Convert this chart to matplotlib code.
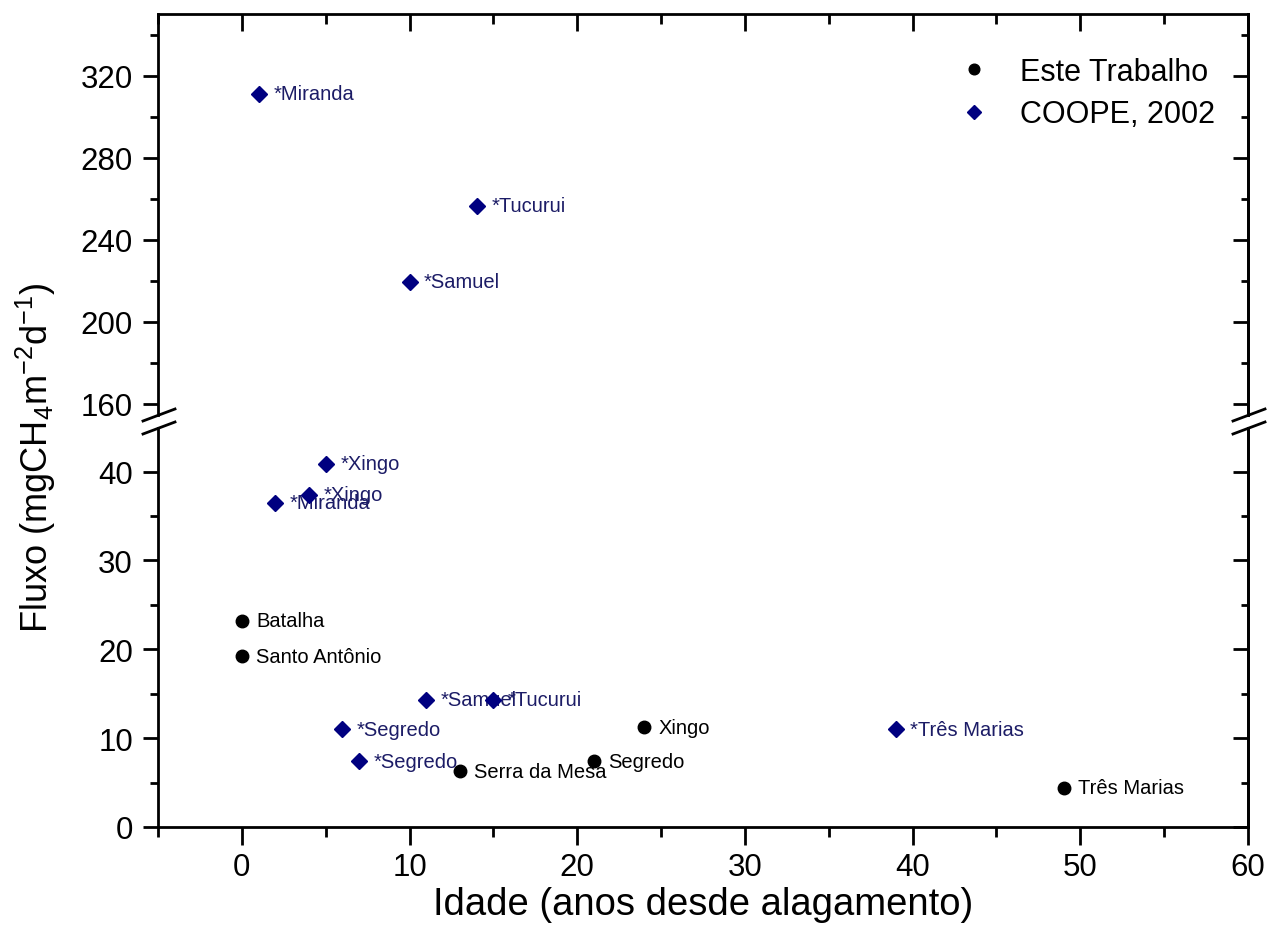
import matplotlib
matplotlib.use("Agg")
import matplotlib.pyplot as plt
from matplotlib.lines import Line2D
from matplotlib.ticker import MultipleLocator

plt.rcParams["font.family"] = ["Liberation Sans", "DejaVu Sans"]
plt.rcParams["mathtext.default"] = "regular"

# Este Trabalho (circulos pretos)
este_nomes = ["Batalha", "Santo Antônio", "Serra da Mesa", "Segredo", "Xingo", "Três Marias"]
este_idade = [0, 0, 13, 21, 24, 49]
este_fluxo = [23.2, 19.2, 6.3, 7.4, 11.2, 4.4]

# COOPE, 2002 (losangos azuis)
coope_nomes = ["*Miranda", "*Tucurui", "*Samuel", "*Xingo", "*Xingo", "*Miranda",
               "*Samuel", "*Tucurui", "*Segredo", "*Segredo", "*Três Marias"]
coope_idade = [1, 14, 10, 5, 4, 2, 11, 15, 6, 7, 39]
coope_fluxo = [311.2, 256.6, 219.5, 40.9, 37.4, 36.5, 14.3, 14.3, 11.0, 7.4, 11.0]

NAVY = "#000080"
NAVY_TXT = "#1c1c66"
W, H = 1273, 945
LW = 2.0
TICK_FS = 22.5

fig = plt.figure(figsize=(W / 100, H / 100), dpi=100)
left, right = 158 / W, 1248 / W
ax_top = fig.add_axes([left, (H - 416) / H, right - left, 401 / H])
ax_bot = fig.add_axes([left, (H - 828) / H, right - left, 399 / H])

ax_top.set_ylim(154.6, 350.1)
ax_bot.set_ylim(0, 44.9)

for ax in (ax_top, ax_bot):
    ax.plot(este_idade, este_fluxo, "o", color="black", ms=9, label="Este Trabalho", zorder=4)
    ax.plot(coope_idade, coope_fluxo, "D", color=NAVY, ms=8, label="COOPE, 2002", zorder=4)
    ax.set_xlim(-5, 60)
    ax.xaxis.set_major_locator(MultipleLocator(10))
    ax.xaxis.set_minor_locator(MultipleLocator(5))
    for s in ax.spines.values():
        s.set_linewidth(LW)
    ax.tick_params(axis="y", which="both", left=True, right=False, direction="out",
                   labelsize=TICK_FS, width=LW, pad=7)
    ax.tick_params(axis="y", which="major", length=11)
    ax.tick_params(axis="y", which="minor", length=6)

ax_top.spines["bottom"].set_visible(False)
ax_bot.spines["top"].set_visible(False)

ax_top.yaxis.set_major_locator(MultipleLocator(40))
ax_top.yaxis.set_minor_locator(MultipleLocator(20))
ax_bot.yaxis.set_major_locator(MultipleLocator(10))
ax_bot.yaxis.set_minor_locator(MultipleLocator(5))

ax_top.tick_params(axis="x", which="both", bottom=False, top=True, labelbottom=False,
                   direction="in", width=LW)
ax_top.tick_params(axis="x", which="major", length=12)
ax_top.tick_params(axis="x", which="minor", length=7)
ax_bot.tick_params(axis="x", which="both", bottom=True, top=False, direction="out",
                   width=LW, labelsize=TICK_FS, pad=5)
ax_bot.tick_params(axis="x", which="major", length=13)
ax_bot.tick_params(axis="x", which="minor", length=7)

# right side ticks point inward
for ax, maj, mnr in ((ax_top, 40, 20), (ax_bot, 10, 5)):
    sec = ax.secondary_yaxis("right")
    sec.yaxis.set_major_locator(MultipleLocator(maj))
    sec.yaxis.set_minor_locator(MultipleLocator(mnr))
    sec.tick_params(which="both", direction="in", labelright=False, width=LW)
    sec.tick_params(which="major", length=11)
    sec.tick_params(which="minor", length=5)
    sec.spines["right"].set_linewidth(LW)

# rotulos dos pontos
for nomes, xs, ys, cor in ((este_nomes, este_idade, este_fluxo, "black"),
                           (coope_nomes, coope_idade, coope_fluxo, NAVY_TXT)):
    for nome, x, y in zip(nomes, xs, ys):
        ax = ax_top if y > 100 else ax_bot
        ax.annotate(nome, (x, y), xytext=(10.5, 0), textcoords="offset points",
                    ha="left", va="center", fontsize=14.5, color=cor, zorder=3)

# marcas de quebra do eixo
for x0 in (143, 1233):
    for dy in (0, 13):
        fig.add_artist(Line2D([x0 / W, (x0 + 32) / W],
                              [(H - 422 - dy) / H, (H - 410 - dy) / H],
                              transform=fig.transFigure, color="black", lw=LW))

ax_top.legend(loc="upper right", bbox_to_anchor=(0.970, 0.894), frameon=False,
              fontsize=22, handlelength=1.0, handletextpad=1.0, markerscale=0.85,
              labelspacing=0.42, borderpad=0, borderaxespad=0)

fig.text(36 / W, (H - 458) / H, "Fluxo (mgCH$_4$m$^{-2}$d$^{-1}$)", rotation=90,
         ha="center", va="center", fontsize=26)
fig.text(703 / W, (H - 905) / H, "Idade (anos desde alagamento)",
         ha="center", va="center", fontsize=27.5)

fig.savefig("out.png", dpi=100)
